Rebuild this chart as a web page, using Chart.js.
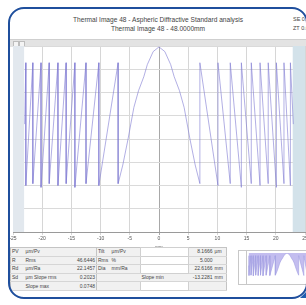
<!DOCTYPE html>
<html>
<head>
<meta charset="utf-8">
<script src="https://cdn.jsdelivr.net/npm/chart.js@4/dist/chart.umd.min.js"></script>
<style>
  html, body { margin: 0; padding: 0; background: #fff; }
  body { width: 306px; height: 305px; position: relative; overflow: hidden; font-family: "Liberation Sans", Arial, sans-serif; }
  .frame { position: absolute; left: 8px; top: 7px; width: 296px; height: 288px; border: 2px solid #1f4f9d; border-radius: 16px; pointer-events: none; z-index: 5; }
  .title { position: absolute; left: 0; width: 316px; text-align: center; font-size: 6.6px; color: #444; white-space: nowrap; }
  .side { position: absolute; left: 293px; font-size: 5.5px; color: #444; white-space: nowrap; }
  .band { position: absolute; left: 10px; top: 39px; width: 296px; height: 7px; background: #e3e3e3; border-top: 1px solid #cfcfcf; }
  .band span { position: absolute; top: 1px; width: 4px; height: 4px; border: 1px solid #bdbdbd; background: #f4f4f4; }
  #main { position: absolute; left: 0; top: 46px; }
  table.stats { position: absolute; left: 10px; top: 247px; border-collapse: collapse; font-size: 5px; color: #444; background: #f1f1f1; border: 1px solid #c4c4c4; table-layout: fixed; }
  table.stats td { height: 7.6px; padding: 0 1px; border-bottom: 1px solid #d6d6d6; white-space: nowrap; overflow: hidden; line-height: 7px; }
  table.stats td.v { text-align: right; }
  table.stats td.sep { border-left: 1px solid #c4c4c4; }
  table.stats td.box { background: #fff; border: 1px solid #d0d0d0; }
  .thumb { position: absolute; left: 238px; top: 250px; width: 70px; height: 33px; border: 1px solid #c8c8c8; background: #fff; }
  #thumb { position: absolute; left: 0; top: 0; }
  .grip { position: absolute; left: 300px; top: 292px; width: 0; height: 0; border-left: 6px solid transparent; border-bottom: 6px solid #1f5fb0; z-index: 6; }
</style>
</head>
<body>
<div class="title" style="top:16px">Thermal Image 48 - Aspheric Diffractive Standard analysis</div>
<div class="title" style="top:25px">Thermal Image 48 - 48.0000mm</div>
<div class="side" style="top:16px">SE 0.0</div>
<div class="side" style="top:25px">ZT 0.0</div>
<div class="band"><span style="left:3px"></span><span style="left:9px"></span></div>
<canvas id="main" width="306" height="204"></canvas>

<table class="stats" id="stats"></table>

<div class="thumb"><canvas id="thumb" width="68" height="33"></canvas></div>
<div class="frame"></div>
<div class="grip"></div>

<script>
// surface profile (mm, relative sag)
const profileX = [
  -23.0, -22.8, -22.8, -21.6, -21.6, -20.2, -20.2, -18.8, -18.8, -17.3, -17.3,
  -15.9, -15.9, -14.4, -14.4, -12.5, -12.5, -10.3, -10.3, -7.0, -7.0,
  -6.2, -5.3, -4.3, -3.5, -2.6, -2.0, -1.0, 0.0,
  1.0, 2.0, 2.6, 3.5, 4.3, 5.3, 6.2, 7.0,
  7.0, 10.1, 10.1, 12.2, 12.2, 14.1, 14.1, 15.8, 15.8, 17.3, 17.3,
  18.7, 18.7, 20.1, 20.1, 21.4, 21.4, 22.5, 22.5, 23.0
];
const profileY = [
  -0.42, -0.09, -0.75, -0.09, -0.74, -0.09, -0.76, -0.09, -0.74, -0.09, -0.75,
  -0.09, -0.74, -0.09, -0.76, -0.09, -0.74, -0.09, -0.75, -0.09, -0.74,
  -0.64, -0.50, -0.33, -0.24, -0.165, -0.10, -0.03, -0.005,
  -0.03, -0.10, -0.165, -0.24, -0.33, -0.50, -0.64, -0.74,
  -0.09, -0.75, -0.09, -0.74, -0.09, -0.76, -0.09, -0.74, -0.09, -0.75, -0.09,
  -0.74, -0.09, -0.76, -0.09, -0.74, -0.09, -0.75, -0.09, -0.42
];
const xTicks = [-25, -20, -15, -10, -5, 0, 5, 10, 15, 20, 25];
const aperture = [-23.1, 22.9]; // outside this the surface is masked

// result table rows
const statRows = [
  ["PV", "µm/Pv", "", "Tilt", "µm/Pv", "", "8.1666", "µm"],
  ["R", "Rms", "46.6446", "Rms", "%", "", "5.000", ""],
  ["Rd", "µm/Ra", "22.1457", "Dia", "mm/Ra", "", "22.6166", "mm"],
  ["Sd", "µm Slope rms", "0.2023", "", "", "Slope min", "-13.2281", "mm"],
  ["", "Slope max", "0.0748", "", "", "", "", ""]
];

const points = profileX.map((x, i) => ({ x: x, y: profileY[i] }));

// shaded masked zones at both edges
const maskPlugin = {
  id: "mask",
  beforeDatasetsDraw(chart) {
    const { ctx, chartArea, scales } = chart;
    const xs = scales.x;
    ctx.save();
    ctx.fillStyle = "#e2e8ee";
    let l = xs.getPixelForValue(xs.min), r = xs.getPixelForValue(aperture[0]);
    ctx.fillRect(l, chartArea.top, r - l, chartArea.bottom - chartArea.top);
    ctx.fillStyle = "#d3e2ea";
    l = xs.getPixelForValue(aperture[1]); r = xs.getPixelForValue(xs.max);
    ctx.fillRect(l, chartArea.top, r - l, chartArea.bottom - chartArea.top);
    ctx.restore();
  }
};

new Chart(document.getElementById("main"), {
  type: "line",
  data: {
    datasets: [{
      data: points,
      borderColor: "rgba(125,120,210,0.75)",
      borderWidth: 0.8,
      pointRadius: 0,
      tension: 0,
      fill: false
    }]
  },
  options: {
    responsive: false,
    animation: false,
    layout: { padding: { left: 13, right: 1, top: 0, bottom: 0 } },
    plugins: { legend: { display: false }, tooltip: { enabled: false } },
    scales: {
      x: {
        type: "linear",
        min: -25, max: 25,
        afterBuildTicks: (s) => { s.ticks = xTicks.map(v => ({ value: v })); },
        afterFit: (s) => { s.height = 18; s.paddingLeft = 0; s.paddingRight = 0; },
        ticks: { font: { size: 5 }, color: "#555", padding: 1, maxRotation: 0 },
        grid: {
          color: (c) => (c.tick && c.tick.value === 0) ? "#a8a8a8" : "#d6d6d6",
          lineWidth: 1, tickLength: 3
        },
        border: { color: "#9a9a9a" },
        title: { display: true, text: "mm", font: { size: 4.5 }, color: "#666", padding: 0 }
      },
      y: {
        min: -1, max: 0,
        ticks: { display: false, stepSize: 0.125 },
        afterFit: (s) => { s.width = 0; },
        grid: { color: "#dadada", drawTicks: false },
        border: { display: false }
      }
    }
  },
  plugins: [maskPlugin]
});

// small overview in the corner
new Chart(document.getElementById("thumb"), {
  type: "line",
  data: {
    datasets: [{
      data: points,
      borderColor: "#a3a0e2",
      borderWidth: 0.6,
      backgroundColor: "rgba(145,135,225,0.55)",
      pointRadius: 0,
      tension: 0,
      fill: "end"
    }]
  },
  options: {
    responsive: false,
    animation: false,
    layout: { padding: { left: 8, right: 0, top: 2, bottom: 1 } },
    plugins: { legend: { display: false }, tooltip: { enabled: false } },
    scales: {
      x: { type: "linear", min: -24, max: 12, display: false },
      y: { min: -1, max: 0, display: false }
    }
  },
  plugins: [{
    id: "leftRule",
    afterDraw(chart) {
      const { ctx, chartArea } = chart;
      ctx.save();
      ctx.strokeStyle = "#c8c8c8";
      ctx.beginPath();
      ctx.moveTo(chartArea.left - 0.5, 0);
      ctx.lineTo(chartArea.left - 0.5, chart.height);
      ctx.stroke();
      ctx.restore();
    }
  }]
});

// fill the stats table
const widths = [14, 38, 34, 14, 30, 48, 25, 13];
const tbl = document.getElementById("stats");
const cg = document.createElement("colgroup");
widths.forEach(w => { const c = document.createElement("col"); c.style.width = w + "px"; cg.appendChild(c); });
tbl.appendChild(cg);
tbl.style.width = widths.reduce((a, b) => a + b, 0) + "px";
statRows.forEach(row => {
  const tr = document.createElement("tr");
  row.forEach((txt, i) => {
    const td = document.createElement("td");
    td.textContent = txt;
    if (i === 2 || i === 6) td.className = "v";
    if (i === 3) td.className = "sep";
    if (i === 5 && !txt) td.className = "box";
    tr.appendChild(td);
  });
  tbl.appendChild(tr);
});
</script>
</body>
</html>
